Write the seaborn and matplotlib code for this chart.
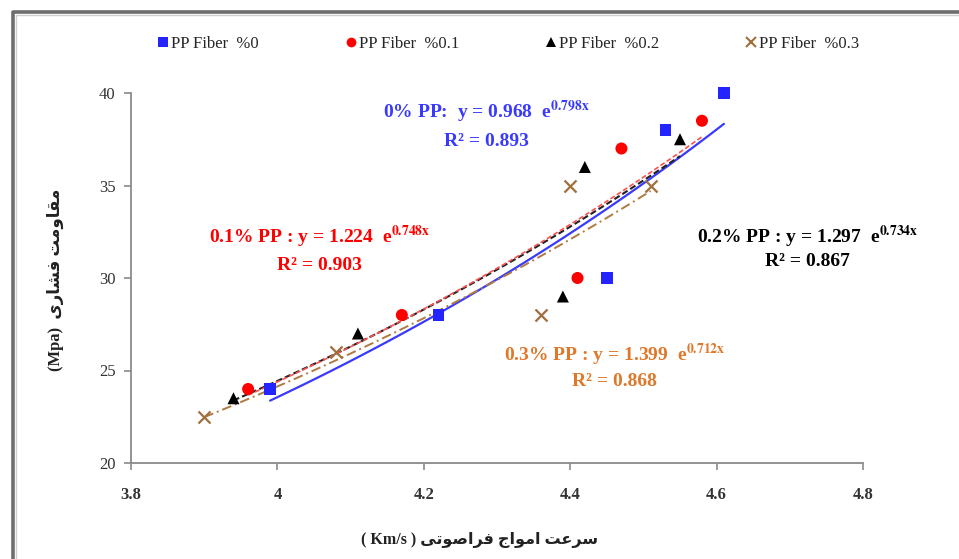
import numpy as np
import pandas as pd
import matplotlib
matplotlib.use("Agg")
import matplotlib.pyplot as plt
import seaborn as sns
from matplotlib.lines import Line2D

# ---------------- data ----------------
series_names = ["PP Fiber  %0", "PP Fiber  %0.1", "PP Fiber  %0.2", "PP Fiber  %0.3"]
x_pp0 = [3.99, 4.22, 4.45, 4.53, 4.61]
y_pp0 = [24.0, 28.0, 30.0, 38.0, 40.0]
x_pp1 = [3.96, 4.17, 4.41, 4.47, 4.58]
y_pp1 = [24.0, 28.0, 30.0, 37.0, 38.5]
x_pp2 = [3.94, 4.11, 4.39, 4.42, 4.55]
y_pp2 = [23.5, 27.0, 29.0, 36.0, 37.5]
x_pp3 = [3.90, 4.08, 4.36, 4.40, 4.51]
y_pp3 = [22.5, 26.0, 28.0, 35.0, 35.0]
# exponential trendline coefficients printed on the chart: y = a * e^(b x)
fit_a = [0.968, 1.224, 1.297, 1.399]
fit_b = [0.798, 0.748, 0.734, 0.712]
fit_r2 = [0.893, 0.903, 0.867, 0.868]
x_ticks = [3.8, 4.0, 4.2, 4.4, 4.6, 4.8]
x_tick_labels = ["3.8", "4", "4.2", "4.4", "4.6", "4.8"]
y_ticks = [20, 25, 30, 35, 40]

xs = [x_pp0, x_pp1, x_pp2, x_pp3]
ys = [y_pp0, y_pp1, y_pp2, y_pp3]

# ---------------- style ----------------
sns.set_theme(style="white")
plt.rcParams['font.family'] = ['Liberation Serif', 'DejaVu Sans']
plt.rcParams['mathtext.fontset'] = 'stix'

marker_colors = ["#2424FF", "#FF0000", "#000000", "#A0703C"]
line_colors = ["#3A3AFF", "#FF5050", "#222222", "#B07A40"]
text_colors = ["#3A3AFF", "#FF0000", "#000000", "#E0782A"]
markers = ["s", "o", "^", "x"]
msizes = [70, 75, 75, 75]
line_styles = ["-", (0, (3, 1.5)), (0, (3, 1.5)), (0, (5, 2, 1, 2))]
line_widths = [1.6, 1.2, 1.5, 1.4]

fig = plt.figure(figsize=(9.59, 5.59), dpi=100)
ax = fig.add_axes([131 / 959, 1 - 463 / 559, (863 - 131) / 959, (463 - 93) / 559])

# trendlines (drawn first)
order_lines = [0, 3, 2, 1]
for i in order_lines:
    xl = np.linspace(min(xs[i]), max(xs[i]), 60)
    yl = fit_a[i] * np.exp(fit_b[i] * xl)
    sns.lineplot(x=xl, y=yl, ax=ax, color=line_colors[i], linestyle=line_styles[i],
                 linewidth=line_widths[i], legend=False, zorder=2)

# scatter points
for i in range(4):
    df = pd.DataFrame({"x": xs[i], "y": ys[i]})
    kw = dict(edgecolor="none") if markers[i] != "x" else dict(linewidth=1.6)
    sns.scatterplot(data=df, x="x", y="y", ax=ax, marker=markers[i], s=msizes[i],
                    color=marker_colors[i], zorder=3, legend=False, clip_on=False, **kw)

ax.set_xlim(3.8, 4.8)
ax.set_ylim(20, 40)
ax.set_xticks(x_ticks)
ax.set_xticklabels(x_tick_labels)
ax.set_yticks(y_ticks)
ax.set_xlabel("")
ax.set_ylabel("")
for s in ["top", "right"]:
    ax.spines[s].set_visible(False)
for s in ["left", "bottom"]:
    ax.spines[s].set_color("#8a8a8a")
    ax.spines[s].set_linewidth(1.3)
ax.tick_params(axis="both", which="major", direction="out", length=5, width=1.2,
               color="#8a8a8a", labelsize=12, pad=6, left=True, bottom=True)
ax.tick_params(axis="x", pad=12)
for lab in ax.get_xticklabels():
    lab.set_fontweight("bold")
    lab.set_color("#333333")
for lab in ax.get_yticklabels():
    lab.set_color("#333333")

# axis labels (Persian, pre-shaped presentation forms in visual order)
ylab = "(Mpa)  " + "\uFEEF\uFEAD\uFE8E\uFEB8\uFED3 \uFE96\uFEE3\uFEED\uFE8E\uFED8\uFEE3"
xlab = "( Km/s ) " + "\uFEF0\uFE97\uFEEE\uFEBB\uFE8D\uFEAE\uFED3 \uFE9D\uFE8D\uFEEE\uFEE3\uFE8D \uFE96\uFECB\uFEAE\uFEB3"
fig.text(55 / 959, 1 - 280 / 559, ylab, rotation=90, ha="center", va="center",
         fontsize=12, fontweight="bold", color="#222222")
fig.text(480 / 959, 1 - 540 / 559, xlab, ha="center", va="center",
         fontsize=11.5, fontweight="bold", color="#222222")

# equation annotations
def px2data(px, py):
    return 3.8 + (px - 131) / 732.5, 40 - (py - 93) / 18.5

labels_pp = ["0% PP:  y = ", "0.1% PP : y = ", "0.2% PP : y = ", "0.3% PP : y = "]
eq_pos = [(487, 112, 141), (320, 237, 265), (808, 237, 262), (615, 355, 382)]
for i in range(4):
    cx, y1, y2 = eq_pos[i]
    dx, dy1 = px2data(cx, y1)
    _, dy2 = px2data(cx, y2)
    line1 = labels_pp[i] + f"{fit_a[i]:.3f}  e" + r"$^{\mathbf{" + f"{fit_b[i]:.3f}" + r"x}}$"
    ax.text(dx, dy1, line1, ha="center", va="center", fontsize=14, fontweight="bold",
            color=text_colors[i])
    ax.text(dx, dy2, f"R² = {fit_r2[i]:.3f}", ha="center", va="center", fontsize=14,
            fontweight="bold", color=text_colors[i])

# legend
handles = []
for i in range(4):
    if markers[i] == "x":
        h = Line2D([], [], linestyle="none", marker="x", color=marker_colors[i],
                   markersize=7, markeredgewidth=1.5)
    else:
        h = Line2D([], [], linestyle="none", marker=markers[i], color=marker_colors[i],
                   markersize=7, markeredgewidth=0)
    handles.append(h)
leg = fig.legend(handles, series_names, loc="center", bbox_to_anchor=(507 / 959, 1 - 44 / 559),
                 ncol=4, frameon=False, fontsize=12, handletextpad=0.0, columnspacing=5.0,
                 handlelength=1.0)

# outer frame (partial, as in the cropped original)
fig.add_artist(Line2D([13 / 959, 13 / 959, 1.0], [0.0, 1 - 12 / 559, 1 - 12 / 559],
                      transform=fig.transFigure, color="#6e6e6e", linewidth=2.6))
fig.add_artist(Line2D([15.5 / 959, 15.5 / 959, 1.0], [0.0, 1 - 14.5 / 559, 1 - 14.5 / 559],
                      transform=fig.transFigure, color="#d0d0d0", linewidth=1.0))

fig.savefig("out.png", dpi=100)
